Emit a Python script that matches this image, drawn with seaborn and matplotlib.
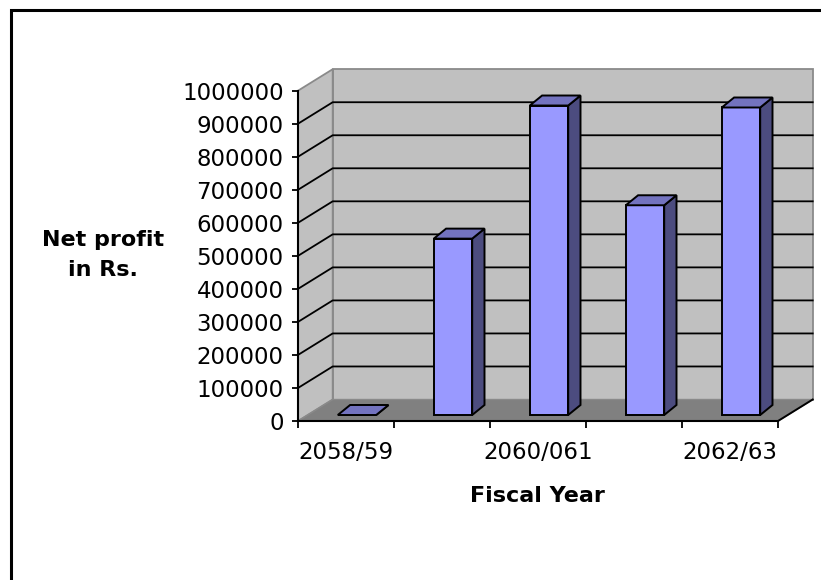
import matplotlib
matplotlib.use("Agg")
import matplotlib.pyplot as plt
import matplotlib.transforms as mtransforms
from matplotlib.patches import Polygon
from matplotlib.lines import Line2D
import numpy as np
import pandas as pd
import seaborn as sns

# Net profit per fiscal year, in rupees
fiscal_years = ["2058/59", "2059/60", "2060/061", "2061/62", "2062/63"]
net_profit = [0, 534000, 937000, 635000, 931000]
labelled_years = ["2058/59", "2060/061", "2062/63"]
y_ticks = [0, 100000, 200000, 300000, 400000, 500000,
           600000, 700000, 800000, 900000, 1000000]

# colours of the 3-D box and bars
WALL = "#C0C0C0"
FLOOR = "#808080"
EDGE = "#8A8A8A"
BAR_FRONT = "#9999FF"
BAR_TOP = "#7373BF"
BAR_SIDE = "#4C4C7F"

W, H, DPI = 821, 580, 100
plt.rcParams["font.family"] = ["DejaVu Sans"]

fig = plt.figure(figsize=(W / DPI, H / DPI), dpi=DPI, facecolor="white")

# front plane of the plot box (pixels from the top-left corner)
left_px, right_px, base_px, top_px = 298, 778, 421, 90.7
ax = fig.add_axes([left_px / W, 1 - base_px / H,
                   (right_px - left_px) / W, (base_px - top_px) / H])
ax.set_facecolor("none")

df = pd.DataFrame({"year": fiscal_years, "profit": net_profit})
sns.barplot(data=df, x="year", y="profit", order=fiscal_years,
            color=BAR_FRONT, saturation=1, width=0.4,
            edgecolor="black", linewidth=1.4, ax=ax, zorder=3)

n = len(fiscal_years)
ax.set_xlim(-0.5, n - 0.5)
ax.set_ylim(y_ticks[0], y_ticks[-1])
x_lo, x_hi = -0.5, n - 0.5
y_lo, y_hi = y_ticks[0], y_ticks[-1]

# depth vectors in pixels (x right, y up)
DEPTH = np.array([34.7, 21.5])      # full depth of the box
BAR_SHIFT = np.array([11.0, 6.0])   # front face of the bars
BAR_DEPTH = np.array([12.3, 10.0])  # thickness of each bar

ident = mtransforms.IdentityTransform()


def px(x, y, off=(0.0, 0.0)):
    return ax.transData.transform((x, y)) + np.asarray(off)


def face(points, **kw):
    ax.add_patch(Polygon(np.array(points), closed=True, transform=ident,
                         clip_on=False, **kw))


def line(points, **kw):
    pts = np.array(points)
    ax.add_line(Line2D(pts[:, 0], pts[:, 1], transform=ident,
                       clip_on=False, **kw))


# walls and floor
face([px(x_lo, y_lo, DEPTH), px(x_hi, y_lo, DEPTH),
      px(x_hi, y_hi, DEPTH), px(x_lo, y_hi, DEPTH)],
     facecolor=WALL, edgecolor=EDGE, lw=1.3, zorder=0.1)
face([px(x_lo, y_lo), px(x_lo, y_hi),
      px(x_lo, y_hi, DEPTH), px(x_lo, y_lo, DEPTH)],
     facecolor=WALL, edgecolor=EDGE, lw=1.3, zorder=0.1)

# gridlines on the side and back walls
for v in y_ticks[1:-1]:
    line([px(x_lo, v), px(x_lo, v, DEPTH), px(x_hi, v, DEPTH)],
         color="black", lw=1.3, zorder=0.2)

face([px(x_lo, y_lo), px(x_hi, y_lo),
      px(x_hi, y_lo, DEPTH), px(x_lo, y_lo, DEPTH)],
     facecolor=FLOOR, edgecolor=EDGE, lw=1.0, zorder=0.3)
line([px(x_hi, y_lo), px(x_hi, y_lo, DEPTH)],
     color="black", lw=1.4, zorder=0.35)

# bars: shift the front faces back, then add their tops and sides
for p in list(ax.patches):
    if not isinstance(p, matplotlib.patches.Rectangle):
        continue
    p.set_transform(mtransforms.offset_copy(ax.transData, fig=fig,
                                            x=BAR_SHIFT[0], y=BAR_SHIFT[1],
                                            units="dots"))
    p.set_clip_on(False)
    x0, w, h = p.get_x(), p.get_width(), p.get_height()
    br = px(x0 + w, 0, BAR_SHIFT)
    tl = px(x0, h, BAR_SHIFT)
    tr = px(x0 + w, h, BAR_SHIFT)
    face([br, tr, tr + BAR_DEPTH, br + BAR_DEPTH],
         facecolor=BAR_SIDE, edgecolor="black", lw=1.4, zorder=3)
    face([tl, tr, tr + BAR_DEPTH, tl + BAR_DEPTH],
         facecolor=BAR_TOP, edgecolor="black", lw=1.4, zorder=3)

# axes, ticks and labels
for side in ("top", "right"):
    ax.spines[side].set_visible(False)
for side in ("left", "bottom"):
    ax.spines[side].set_color("black")
    ax.spines[side].set_linewidth(1.5)
    ax.spines[side].set_zorder(4)

ax.set_yticks(y_ticks)
ax.set_yticklabels([f"{t:d}" for t in y_ticks])
ax.tick_params(axis="y", direction="out", length=4.3, width=1.3,
               pad=6, labelsize=16.5, colors="black")

ax.set_xticks(np.arange(x_lo, x_hi + 0.01, 1.0))
ax.set_xticklabels([])
ax.set_xticks([fiscal_years.index(y) for y in labelled_years], minor=True)
ax.set_xticklabels(labelled_years, minor=True)
ax.tick_params(axis="x", which="major", direction="out", length=5,
               width=1.3, colors="black")
ax.tick_params(axis="x", which="minor", length=0, pad=14.3,
               labelsize=16.5, colors="black")

ax.set_ylabel("Net profit\nin Rs.", rotation=0, fontsize=16,
              fontweight="bold", ha="center", va="center", linespacing=1.6)
ax.yaxis.set_label_coords((102.9 - left_px) / (right_px - left_px),
                          (base_px - 255) / (base_px - top_px))
ax.set_xlabel("Fiscal Year", fontsize=16, fontweight="bold", va="center")
ax.xaxis.set_label_coords((537 - left_px) / (right_px - left_px),
                          (base_px - 496.5) / (base_px - top_px))

# chart frame along the top and left edges
fig.add_artist(Line2D([10.5 / W, 10.5 / W, 1.0],
                      [0.0, 1 - 10 / H, 1 - 10 / H],
                      transform=fig.transFigure, color="black", lw=2.2,
                      solid_joinstyle="miter"))

fig.savefig("out.png", dpi=DPI, facecolor="white")
